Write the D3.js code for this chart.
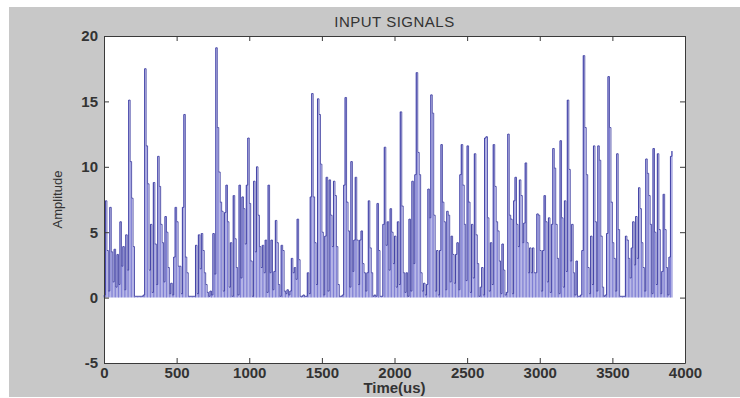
<!DOCTYPE html>
<html>
<head>
<meta charset="utf-8">
<script src="https://cdn.jsdelivr.net/npm/d3@7"></script>
<style>
  body { margin: 0; background: #fff; }
  text { font-family: "Liberation Sans", Arial, sans-serif; }
</style>
</head>
<body>
<div id="chart"></div>
<script>
// sample period of the signal, us
const samplePeriod = 10;

// amplitude samples (10 samples per row = 100 us)
const amplitude = [
  0.2, 7.4, 3.6, 0.5, 6.9, 3.5, 1.2, 3.7, 0.8, 3.3,
  1.0, 5.8, 2.4, 3.9, 0.6, 4.8, 2.1, 15.1, 10.4, 7.6,
  3.9, 0.1, 0.1, 0.1, 0.1, 0.1, 0.1, 0.2, 17.5, 11.6,
  8.7, 2.1, 5.6, 0.4, 8.8, 4.1, 1.0, 10.8, 8.5, 5.6,
  4.2, 1.2, 6.2, 5.0, 2.3, 0.3, 1.1, 0.2, 3.1, 6.9,
  5.8, 2.4, 2.4, 0.3, 6.9, 14.0, 3.1, 1.9, 0.1, 0.1,
  0.1, 0.1, 0.1, 4.0, 0.3, 4.8, 2.2, 4.9, 3.6, 1.9,
  1.0, 0.4, 0.1, 0.5, 0.2, 4.9, 1.8, 19.1, 13.0, 9.6,
  7.3, 6.6, 0.5, 6.5, 8.6, 5.8, 0.8, 4.2, 0.1, 7.8,
  4.5, 2.3, 0.2, 8.6, 1.5, 7.7, 6.8, 4.1, 8.6, 12.2,
  7.2, 2.8, 0.1, 8.9, 3.5, 10.0, 6.3, 3.9, 2.3, 4.0,
  1.9, 4.4, 0.4, 8.6, 1.9, 4.4, 0.6, 2.0, 5.9, 4.2,
  1.0, 0.1, 4.0, 3.6, 0.5, 0.3, 0.6, 0.2, 0.5, 3.0,
  1.9, 2.3, 1.4, 6.0, 2.9, 0.1, 0.1, 0.2, 0.1, 0.1,
  1.9, 0.3, 7.7, 15.6, 7.7, 4.2, 1.0, 15.2, 14.0, 10.2,
  5.0, 0.2, 4.7, 9.2, 0.5, 9.0, 6.3, 3.9, 8.9, 7.8,
  3.9, 1.0, 0.1, 0.1, 0.2, 8.6, 15.3, 7.3, 5.1, 0.8,
  10.4, 2.0, 4.4, 9.2, 4.4, 1.0, 4.4, 5.1, 2.6, 1.9,
  0.5, 1.9, 7.4, 3.8, 1.9, 0.1, 0.2, 0.1, 7.2, 3.6,
  0.1, 0.1, 5.6, 11.5, 4.0, 5.8, 2.1, 6.8, 5.0, 2.6,
  4.7, 0.8, 5.8, 1.0, 14.2, 7.0, 1.9, 0.4, 1.9, 0.1,
  6.0, 0.5, 8.9, 2.6, 9.4, 17.2, 11.1, 9.4, 1.9, 0.5,
  1.1, 0.2, 1.0, 8.3, 6.1, 15.5, 14.1, 6.3, 0.5, 3.6,
  0.2, 3.6, 11.7, 7.3, 5.8, 0.6, 6.6, 6.3, 1.2, 4.7,
  3.3, 1.1, 3.3, 4.2, 0.6, 9.4, 11.7, 8.6, 5.6, 1.3,
  11.6, 7.3, 0.4, 5.6, 1.5, 11.0, 4.8, 2.6, 0.1, 0.8,
  2.3, 0.2, 12.2, 12.3, 6.1, 0.5, 4.2, 1.0, 11.7, 8.5,
  5.8, 5.1, 2.8, 0.3, 4.1, 2.1, 0.2, 0.4, 12.5, 6.3,
  6.0, 0.3, 7.4, 9.2, 5.6, 3.9, 9.0, 7.8, 4.2, 5.7,
  10.3, 4.2, 1.9, 3.8, 1.9, 3.8, 1.9, 1.9, 6.4, 6.3,
  3.6, 0.5, 3.6, 7.8, 5.8, 1.2, 6.1, 0.4, 5.6, 11.4,
  9.9, 5.6, 3.0, 0.3, 12.0, 6.1, 0.8, 7.4, 2.0, 15.1,
  9.8, 2.8, 5.6, 1.9, 0.2, 2.8, 0.1, 0.1, 0.2, 3.6,
  18.5, 13.0, 9.4, 2.3, 0.3, 4.7, 1.0, 11.6, 5.8, 0.5,
  11.6, 10.5, 4.7, 0.8, 0.1, 0.2, 4.9, 16.9, 13.0, 7.3,
  4.2, 3.0, 0.5, 11.0, 5.2, 0.1, 0.1, 0.1, 0.1, 4.7,
  4.4, 3.0, 1.5, 3.8, 5.8, 2.5, 6.2, 3.0, 8.4, 6.8,
  4.2, 2.3, 0.5, 10.6, 9.5, 7.8, 5.6, 0.3, 11.4, 5.0,
  1.0, 11.0, 5.2, 0.3, 2.0, 7.9, 5.2, 2.3, 0.2, 3.1,
  10.8, 11.2
];

const xTicks = [0, 500, 1000, 1500, 2000, 2500, 3000, 3500, 4000];
const yTicks = [-5, 0, 5, 10, 15, 20];

const titleText = "INPUT SIGNALS";
const xLabel = "Time(us)";
const yLabel = "Amplitude";

const svgWidth = 740, svgHeight = 398;
const margin = { top: 36, right: 55, bottom: 35, left: 104 };
const width = svgWidth - margin.left - margin.right;
const height = svgHeight - margin.top - margin.bottom;

const svg = d3.select("#chart").append("svg")
  .attr("width", svgWidth)
  .attr("height", svgHeight);

// gray figure background
svg.append("rect")
  .attr("x", 9).attr("y", 7)
  .attr("width", svgWidth - 9).attr("height", svgHeight - 8)
  .attr("fill", "#c8c8c8");

const g = svg.append("g")
  .attr("transform", `translate(${margin.left},${margin.top})`);

const x = d3.scaleLinear().domain([0, 4000]).range([0, width]);
const y = d3.scaleLinear().domain([-5, 20]).range([height, 0]);

g.append("rect")
  .attr("width", width).attr("height", height)
  .attr("fill", "#fff");

// dense sampled signal: light stems under each sample give the smeared fill
g.append("g")
  .selectAll("line")
  .data(amplitude)
  .join("line")
  .attr("x1", (d, i) => x(i * samplePeriod))
  .attr("x2", (d, i) => x(i * samplePeriod))
  .attr("y1", y(0))
  .attr("y2", d => y(d))
  .attr("stroke", "#7f7fd4")
  .attr("stroke-width", 1.1);

// the signal trace itself, held between samples
const line = d3.line()
  .x((d, i) => x(i * samplePeriod))
  .y(d => y(d))
  .curve(d3.curveStepAfter);

g.append("path")
  .datum(amplitude)
  .attr("d", line)
  .attr("fill", "none")
  .attr("stroke", "#3c3ca0")
  .attr("stroke-opacity", 0.85)
  .attr("stroke-width", 1);

// axes, MATLAB style: ticks inside, box on all sides
const tickStyle = sel => {
  sel.select(".domain").attr("stroke", "#3a3a3a");
  sel.selectAll(".tick line").attr("stroke", "#3a3a3a");
  sel.selectAll("text")
    .attr("fill", "#333")
    .style("font-size", "15px")
    .style("font-weight", "bold");
};

g.append("g")
  .attr("transform", `translate(0,${height})`)
  .call(d3.axisBottom(x).tickValues(xTicks).tickFormat(d3.format("d"))
    .tickSizeInner(-5).tickSizeOuter(0).tickPadding(4))
  .call(tickStyle);

g.append("g")
  .call(d3.axisLeft(y).tickValues(yTicks).tickFormat(d => String(d))
    .tickSizeInner(-5).tickSizeOuter(0).tickPadding(6))
  .call(tickStyle);

g.append("g")
  .call(d3.axisTop(x).tickValues(xTicks).tickSizeInner(-5).tickSizeOuter(0).tickFormat(""))
  .call(tickStyle);

g.append("g")
  .attr("transform", `translate(${width},0)`)
  .call(d3.axisRight(y).tickValues(yTicks).tickSizeInner(-5).tickSizeOuter(0).tickFormat(""))
  .call(tickStyle);

// title and labels
svg.append("text")
  .attr("x", margin.left + width / 2)
  .attr("y", 27)
  .attr("text-anchor", "middle")
  .attr("fill", "#333")
  .style("font-size", "15px")
  .style("letter-spacing", "0.5px")
  .text(titleText);

svg.append("text")
  .attr("x", margin.left + width / 2)
  .attr("y", 393)
  .attr("text-anchor", "middle")
  .attr("fill", "#333")
  .style("font-size", "15px")
  .style("font-weight", "bold")
  .text(xLabel);

svg.append("text")
  .attr("transform", `translate(62,${margin.top + height / 2}) rotate(-90)`)
  .attr("text-anchor", "middle")
  .attr("fill", "#333")
  .style("font-size", "13px")
  .text(yLabel);
</script>
</body>
</html>
